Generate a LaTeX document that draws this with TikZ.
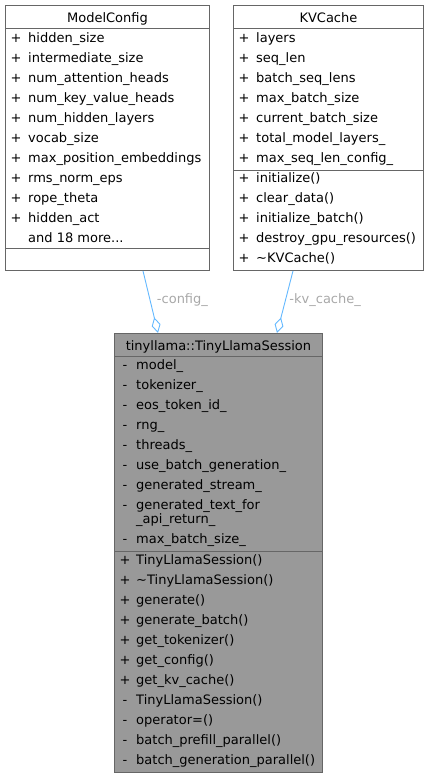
\documentclass[tikz,border=0pt]{standalone}
\usepackage{fontspec}
\setmainfont{DejaVu Sans}
\usepackage{tikz}
\usetikzlibrary{arrows.meta,calc}
\definecolor{edgeblue}{HTML}{63B8FF}
\definecolor{boxline}{HTML}{666666}
\definecolor{sessfill}{HTML}{999999}
\definecolor{lblgrey}{HTML}{A8A8A8}

\begin{document}
\begin{tikzpicture}[x=1pt,y=-1pt,
  font=\fontsize{13}{15}\selectfont,
  cls/.style={draw=boxline,line width=0.9pt,fill=white,inner sep=0pt,anchor=north west},
  sep/.style={boxline,line width=0.9pt},
  vis/.style={anchor=base,inner sep=0pt},
  mem/.style={anchor=base west,inner sep=0pt},
  ttl/.style={anchor=base,inner sep=0pt},
  agg/.style={{Diamond[open,length=16pt,width=9pt]}-,line width=0.9pt,edgeblue},
  lbl/.style={anchor=base west,inner sep=0pt,text=lblgrey}
]
\useasboundingbox (0,0) rectangle (429,779);

% classes
\node[cls,minimum width=204pt,minimum height=265pt] (cfg) at (5,5) {};
\node[cls,minimum width=190pt,minimum height=265pt] (kvc) at (233,5) {};
\node[cls,fill=sessfill,minimum width=208pt,minimum height=439pt] (sess) at (114,333) {};

\draw[sep] ($(cfg.north west)+(0,23)$) -- ($(cfg.north east)+(0,23)$);
\draw[sep] ($(cfg.north west)+(0,243)$) -- ($(cfg.north east)+(0,243)$);
\draw[sep] ($(kvc.north west)+(0,23)$) -- ($(kvc.north east)+(0,23)$);
\draw[sep] ($(kvc.north west)+(0,165)$) -- ($(kvc.north east)+(0,165)$);
\draw[sep] ($(sess.north west)+(0,23)$) -- ($(sess.north east)+(0,23)$);
\draw[sep] ($(sess.north west)+(0,218)$) -- ($(sess.north east)+(0,218)$);

\node[ttl] (cfgT) at ($(cfg.north)+(0,18)$) {ModelConfig};
\node[ttl] (kvcT) at ($(kvc.north)+(0,18)$) {KVCache};
\node[ttl] (sessT) at ($(sess.north)+(0,17)$) {tinyllama::TinyLlamaSession};

\foreach \t [count=\i] in {hidden\_size,intermediate\_size,num\_attention\_heads,
    num\_key\_value\_heads,num\_hidden\_layers,vocab\_size,max\_position\_embeddings,
    rms\_norm\_eps,rope\_theta,hidden\_act}{
  \node[vis] (cfgV\i) at (16,22+20*\i) {+};
  \node[mem] (cfgA\i) at (28,22+20*\i) {\t};
}
\node[mem] (cfgMore) at (28,242) {and 18 more...};

\foreach \t [count=\i] in {layers,seq\_len,batch\_seq\_lens,max\_batch\_size,
    current\_batch\_size,total\_model\_layers\_,max\_seq\_len\_config\_}{
  \node[vis] (kvcV\i) at (244,22+20*\i) {+};
  \node[mem] (kvcA\i) at (256,22+20*\i) {\t};
}
\foreach \t [count=\i] in {initialize(),clear\_data(),initialize\_batch(),
    destroy\_gpu\_resources(),\textasciitilde KVCache()}{
  \node[vis] (kvcW\i) at (244,162+20*\i) {+};
  \node[mem] (kvcM\i) at (256,162+20*\i) {\t};
}

\foreach \y/\t [count=\i] in {369/model\_,389/tokenizer\_,409/eos\_token\_id\_,429/rng\_,
    449/threads\_,469/use\_batch\_generation\_,489/generated\_stream\_,
    509/generated\_text\_for,543/max\_batch\_size\_}{
  \node[vis] (sessV\i) at (125,\y) {-};
  \node[mem] (sessA\i) at (136,\y) {\t};
}
\node[mem] (sessA8b) at (136,523) {\_api\_return\_};

\foreach \m/\t [count=\i] in {+/TinyLlamaSession(),+/\textasciitilde TinyLlamaSession(),
    +/generate(),+/generate\_batch(),+/get\_tokenizer(),+/get\_config(),
    +/get\_kv\_cache(),-/TinyLlamaSession(),-/operator=(),
    -/batch\_prefill\_parallel(),-/batch\_generation\_parallel()}{
  \node[vis] (sessW\i) at (125,544+20*\i) {\m};
  \node[mem] (sessM\i) at (136,544+20*\i) {\t};
}

% associations
\draw[agg] ([xshift=44pt]sess.north west) -- ([xshift=138pt]cfg.south west)
  node[lbl,pos=0.5,xshift=6pt,yshift=-2pt] (cfgL) {-config\_};
\draw[agg] ([xshift=163pt]sess.north west) -- ([xshift=60pt]kvc.south west)
  node[lbl,pos=0.5,xshift=4pt,yshift=-2pt] (kvcL) {-kv\_cache\_};
\end{tikzpicture}
\end{document}
